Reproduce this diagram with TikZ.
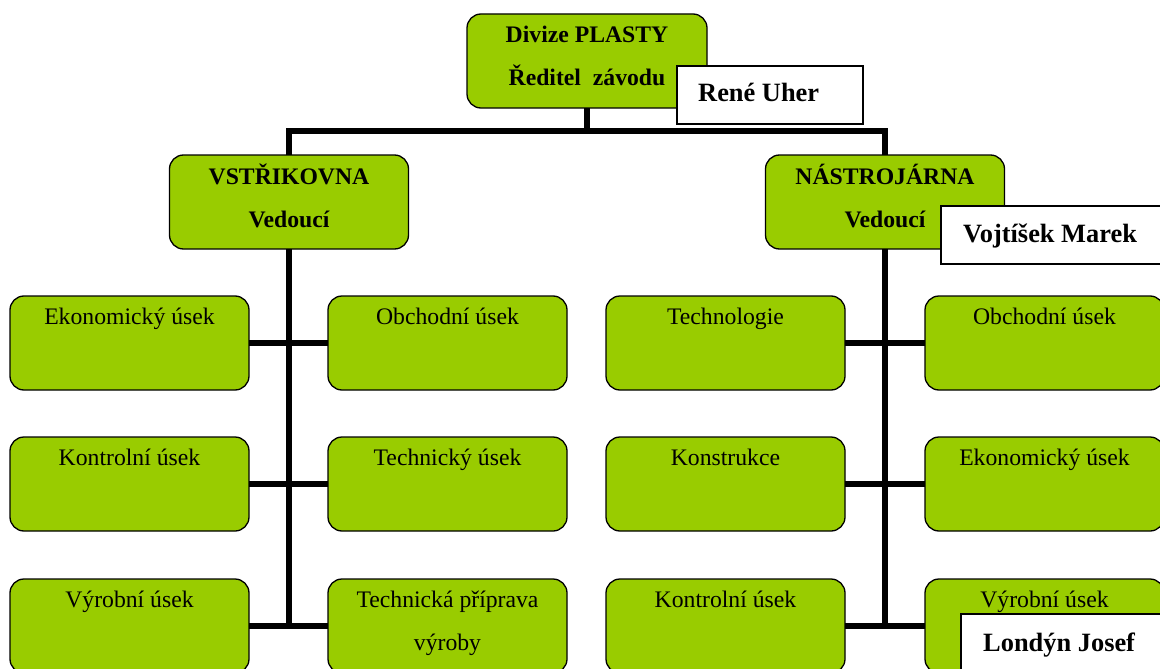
\documentclass[tikz,border=0pt]{standalone}
\usepackage{fontspec}
\setmainfont{Liberation Serif}
\definecolor{boxgreen}{HTML}{99CC00}
\tikzset{
  orgbox/.style={draw=black, line width=1.3pt, fill=boxgreen, rounded corners=14pt,
    minimum width=239pt, minimum height=94pt, inner sep=0pt, outer sep=0pt},
  namebox/.style={draw=black, line width=1.3pt, fill=white, minimum height=58pt,
    inner sep=0pt, outer sep=0pt, anchor=north west},
  txt/.style={font={\fontsize{23.7pt}{28pt}\selectfont}, inner sep=0pt, anchor=base},
  hdr/.style={font={\fontsize{23.7pt}{28pt}\selectfont\bfseries}, inner sep=0pt, anchor=base},
  nametxt/.style={font={\fontsize{26.4pt}{30pt}\selectfont\bfseries}, inner sep=0pt, anchor=base west},
  link/.style={line width=5.5pt, draw=black}
}
\begin{document}
\begin{tikzpicture}[x=1pt, y=-1pt]
\useasboundingbox (0,0) rectangle (1160,669);

% top level
\node[orgbox, minimum width=240pt] (top) at (587,61) {};
\node[hdr] (topa) at ([yshift=-29pt]top.north) {Divize PLASTY};
\node[hdr] (topb) at ([yshift=-71pt]top.north) {Ředitel\ \ závodu};
\node[namebox, minimum width=186pt] (rene) at (677,66) {};
\node[nametxt] (renet) at ([xshift=21pt,yshift=-36pt]rene.north west) {René Uher};

% second level
\node[orgbox] (vst) at (289,202) {};
\node[hdr] (vsta) at ([yshift=-29pt]vst.north) {VSTŘIKOVNA};
\node[hdr] (vstb) at ([yshift=-72pt]vst.north) {Vedoucí};

\node[orgbox] (nas) at (885,202) {};
\node[hdr] (nasa) at ([yshift=-29pt]nas.north) {NÁSTROJÁRNA};
\node[hdr] (nasb) at ([yshift=-72pt]nas.north) {Vedoucí};
\node[namebox, minimum width=230pt] (voj) at (941,206) {};
\node[nametxt] (vojt) at ([xshift=22pt,yshift=-36pt]voj.north west) {Vojtíšek Marek};

% VSTRIKOVNA departments
\node[orgbox] (a1) at (129.5,343) {};
\node[txt] at ([yshift=-28pt]a1.north) {Ekonomický úsek};
\node[orgbox] (a2) at (129.5,484) {};
\node[txt] at ([yshift=-28pt]a2.north) {Kontrolní úsek};
\node[orgbox] (a3) at (129.5,626) {};
\node[txt] at ([yshift=-28pt]a3.north) {Výrobní úsek};

\node[orgbox] (b1) at (447.5,343) {};
\node[txt] at ([yshift=-28pt]b1.north) {Obchodní úsek};
\node[orgbox] (b2) at (447.5,484) {};
\node[txt] at ([yshift=-28pt]b2.north) {Technický úsek};
\node[orgbox] (b3) at (447.5,626) {};
\node[txt] at ([yshift=-28pt]b3.north) {Technická příprava};
\node[txt] at ([yshift=-71pt]b3.north) {výroby};

% NASTROJARNA departments
\node[orgbox] (c1) at (725.5,343) {};
\node[txt] at ([yshift=-28pt]c1.north) {Technologie};
\node[orgbox] (c2) at (725.5,484) {};
\node[txt] at ([yshift=-28pt]c2.north) {Konstrukce};
\node[orgbox] (c3) at (725.5,626) {};
\node[txt] at ([yshift=-28pt]c3.north) {Kontrolní úsek};

\node[orgbox] (d1) at (1044.5,343) {};
\node[txt] at ([yshift=-28pt]d1.north) {Obchodní úsek};
\node[orgbox] (d2) at (1044.5,484) {};
\node[txt] at ([yshift=-28pt]d2.north) {Ekonomický úsek};
\node[orgbox] (d3) at (1044.5,626) {};
\node[txt] at ([yshift=-28pt]d3.north) {Výrobní úsek};
\node[namebox, minimum width=210pt] (lon) at (961,614) {};
\node[nametxt] (lont) at ([xshift=22pt,yshift=-37pt]lon.north west) {Londýn Josef};

% connectors
\coordinate (j) at (587,131);
\coordinate (vend) at (289,628);
\coordinate (nend) at (885,628);
\draw[link] (top.south) -- (j);
\draw[link] (vst.north) |- (j) -| (nas.north);
\draw[link] (vst.south) -- (vend);
\draw[link] (nas.south) -- (nend);
\draw[link] (a1.east) -- (b1.west);
\draw[link] (a2.east) -- (b2.west);
\draw[link] (a3.east) -- (b3.west);
\draw[link] (c1.east) -- (d1.west);
\draw[link] (c2.east) -- (d2.west);
\draw[link] (c3.east) -- (d3.west);
\end{tikzpicture}
\end{document}
